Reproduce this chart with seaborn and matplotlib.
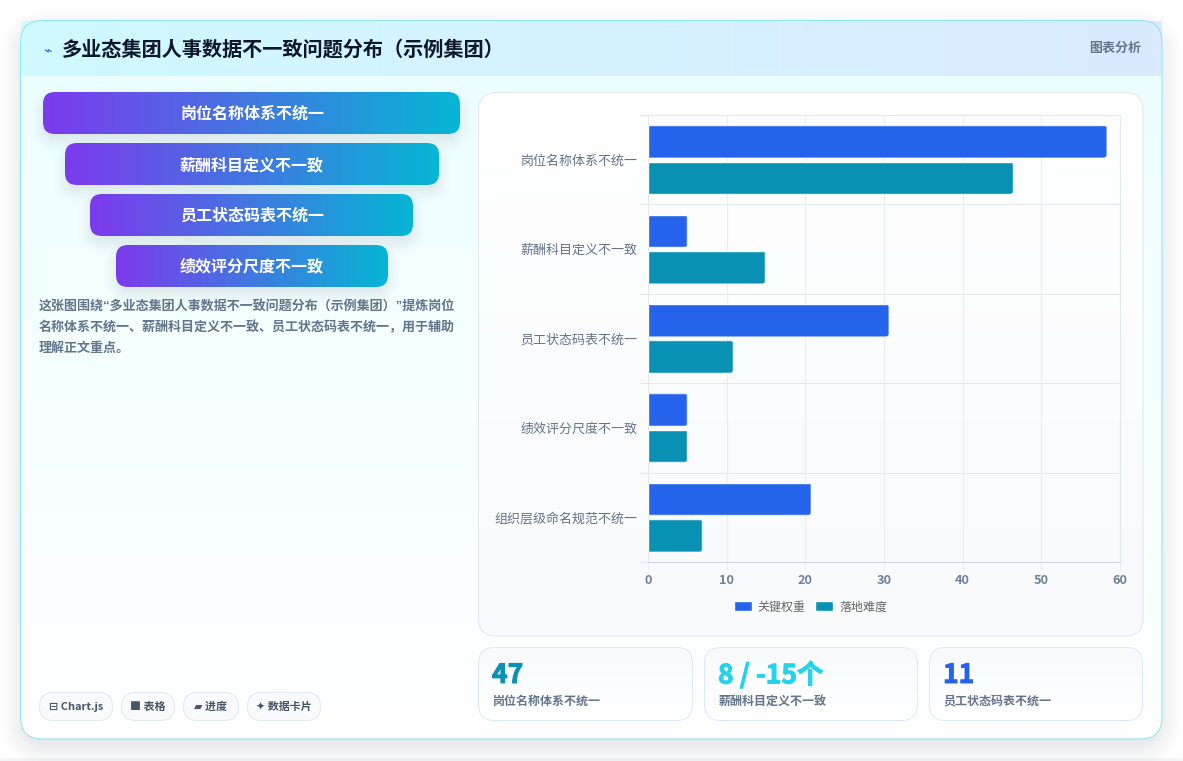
import numpy as np
import pandas as pd
import matplotlib
matplotlib.use("Agg")
import matplotlib.pyplot as plt
from matplotlib.colors import LinearSegmentedColormap, to_rgb
from matplotlib.patches import FancyBboxPatch, Rectangle
from matplotlib.patheffects import withStroke
from matplotlib.transforms import IdentityTransform
from matplotlib.ticker import FixedLocator
import seaborn as sns

# Chart data
categories = ["岗位名称体系不统一", "薪酬科目定义不一致", "员工状态码表不统一", "绩效评分尺度不一致", "组织层级命名规范不统一"]
key_weight = [58.3, 5, 30.6, 5, 20.7]
landing_difficulty = [46.4, 14.9, 10.8, 5, 6.9]
series_names = ["关键权重", "落地难度"]
series_colors = ["#2563eb", "#0891b2"]
x_ticks = [0, 10, 20, 30, 40, 50, 60]

# Page copy
title_text = "多业态集团人事数据不一致问题分布（示例集团）"
title_icon = "⌁"
header_tag = "图表分析"
funnel_labels = ["岗位名称体系不统一", "薪酬科目定义不一致", "员工状态码表不统一", "绩效评分尺度不一致"]
summary_lines = [
    "这张图围绕“多业态集团人事数据不一致问题分布（示例集团）”提炼岗位",
    "名称体系不统一、薪酬科目定义不一致、员工状态码表不统一，用于辅助",
    "理解正文重点。",
]
chip_labels = ["⊟ Chart.js", "■ 表格", "▰ 进度", "✦ 数据卡片"]
stat_values = ["47", "8 / -15个", "11"]
stat_labels = ["岗位名称体系不统一", "薪酬科目定义不一致", "员工状态码表不统一"]
stat_colors = ["#0891b2", "#22d3ee", "#2563eb"]

W, H = 1183, 761
FONT = ["Noto Sans CJK SC", "DejaVu Sans"]
LATIN_FIRST = ["Liberation Sans", "Noto Sans CJK SC"]
sns.set_theme(style="white")
plt.rcParams["font.family"] = FONT
HAIR = 0.72  # one device pixel in points


def pt(px):
    return px * 0.72


fig = plt.figure(figsize=(W / 100, H / 100), dpi=100, facecolor="white")
bg = fig.add_axes([0, 0, 1, 1], zorder=0)
bg.set_axis_off()


def round_box(x0, y0, x1, y1, r, **kw):
    return FancyBboxPatch((x0 + r, y0 + r), x1 - x0 - 2 * r, y1 - y0 - 2 * r,
                          boxstyle=f"round,pad={r},rounding_size={r}", **kw)


def shadow(x0, y0, x1, y1, r, blur, color, alpha, dy=0, z=1):
    # Soft shadow from the distance field of a rounded box
    m = int(blur * 2.5)
    xs = np.arange(x0 - m, x1 + m)
    ys = np.arange(y0 - m + dy, y1 + m + dy)
    gx, gy = np.meshgrid(xs + 0.5, ys + 0.5)
    cx, cy = (x0 + x1) / 2, (y0 + y1) / 2 + dy
    qx = np.abs(gx - cx) - (x1 - x0) / 2 + r
    qy = np.abs(gy - cy) - (y1 - y0) / 2 + r
    d = np.hypot(np.maximum(qx, 0), np.maximum(qy, 0)) + np.minimum(np.maximum(qx, qy), 0) - r
    a = np.clip(0.5 - d / (2 * blur), 0, 1)
    a = a * a * (3 - 2 * a) * alpha
    img = np.zeros(a.shape + (4,))
    img[..., :3] = to_rgb(color)
    img[..., 3] = a
    bg.imshow(img, extent=(xs[0], xs[-1] + 1, ys[-1] + 1, ys[0]), aspect="auto",
              interpolation="bilinear", zorder=z)


def gradient(x0, y0, x1, y1, c0, c1, horizontal=True, clip=None, z=2):
    cmap = LinearSegmentedColormap.from_list("g", [c0, c1])
    ramp = np.linspace(0, 1, 256)
    arr = ramp[None, :] if horizontal else ramp[:, None]
    im = bg.imshow(arr, cmap=cmap, extent=(x0, x1, y1, y0), aspect="auto", zorder=z,
                   interpolation="bilinear", vmin=0, vmax=1)
    if clip is not None:
        clip.set_transform(bg.transData)
        im.set_clip_path(clip)
    return im


# Page and card
bg.add_patch(Rectangle((0, 758), W, 3, fc="#f3f4f6", ec="none", zorder=0.5))
shadow(20, 20, 1162, 739, 22, 26, "#0f172a", 0.14, dy=8, z=1)
card_clip = round_box(20.5, 20.5, 1162, 739, 22, fc="none", ec="none")
gradient(20, 20, 1162, 740, "#ecfeff", "#ffffff", horizontal=False, clip=card_clip, z=2)
gradient(21, 21, 1162, 76, "#cffafe", "#dbeafe", z=3)
bg.add_patch(round_box(20.5, 20.5, 1162, 739, 22, fc="none", ec="#8be6f2", lw=HAIR, zorder=4))

# Header
bg.text(47, 50, title_icon, fontsize=pt(14), color="#2563eb", ha="center", va="center",
        family="DejaVu Sans", zorder=6)
bg.text(62, 49.5, title_text, fontsize=pt(20.2), fontweight="bold", color="#0f172a",
        ha="left", va="center", zorder=6)
bg.text(1141, 48, header_tag, fontsize=pt(13), fontweight="bold", color="#64748b",
        ha="right", va="center", zorder=6)

# Funnel steps
funnel_spans = [(43, 460, 92), (65, 439, 143), (90, 413, 194), (116, 388, 245)]
for label, (x0, x1, y0) in zip(funnel_labels, funnel_spans):
    y1 = y0 + 42
    shadow(x0, y0, x1, y1, 12, 16, "#0f172a", 0.11, dy=7, z=5)
    gradient(x0, y0, x1, y1, "#7c3aed", "#06b6d4",
             clip=round_box(x0, y0, x1, y1, 12, fc="none", ec="none"), z=6)
    bg.text(252, y0 + 22, label, fontsize=pt(16), fontweight="bold", color="white",
            ha="center", va="center", zorder=7)

# Summary paragraph
for line, y in zip(summary_lines, [307.5, 328, 348.5]):
    bg.text(39, y, line, fontsize=pt(13), fontweight="bold", color="#64748b",
            family=LATIN_FIRST, ha="left", va="center", zorder=6)

# Feature chips
chip_spans = [(39, 113), (121, 175), (183, 239), (247, 321)]
for label, (x0, x1) in zip(chip_labels, chip_spans):
    bg.add_patch(round_box(x0 + .5, 692.5, x1 - .5, 720.5, 14, fc="#f8fafc", ec="#e2e8f0", lw=HAIR, zorder=6))
    bg.text((x0 + x1) / 2, 707, label, fontsize=pt(11), fontweight="bold", color="#475569",
            ha="center", va="center", zorder=7)

# Chart panel
gradient(478, 92, 1143, 636, "#ffffff", "#f8fafc", horizontal=False,
         clip=round_box(478.5, 92.5, 1143, 636, 18, fc="none", ec="none"), z=5)
bg.add_patch(round_box(478.5, 92.5, 1143, 636, 18, fc="none", ec="#e2e8f0", lw=HAIR, zorder=6))

# Stat cards
stat_spans = [(478, 693), (704, 918), (929, 1143)]
for value, label, color, (x0, x1) in zip(stat_values, stat_labels, stat_colors, stat_spans):
    gradient(x0, 647, x1, 720, "#f8fafc", "#ffffff", horizontal=False,
             clip=round_box(x0 + .5, 647.5, x1 - .5, 720.5, 16, fc="none", ec="none"), z=5)
    bg.add_patch(round_box(x0 + .5, 647.5, x1 - .5, 720.5, 16, fc="none", ec="#dbeafe", lw=HAIR, zorder=6))
    bg.text(x0 + 14, 675.5, value, fontsize=pt(26.5), fontweight="bold", color=color, ha="left", va="center",
            zorder=7, path_effects=[withStroke(linewidth=0.7, foreground=color)])
    bg.text(x0 + 14.5, 701, label, fontsize=pt(12), fontweight="bold", color="#64748b",
            ha="left", va="center", zorder=7)

bg.set_xlim(0, W)
bg.set_ylim(H, 0)

# Horizontal grouped bars
df = pd.DataFrame({
    "category": categories * 2,
    "series": [series_names[0]] * len(categories) + [series_names[1]] * len(categories),
    "value": key_weight + landing_difficulty,
})
ax = fig.add_axes([648 / W, (H - 562) / H, 472 / W, 447 / H], zorder=2)
ax.patch.set_alpha(0)
sns.barplot(data=df, y="category", x="value", hue="series", order=categories,
            hue_order=series_names, palette=series_colors, orient="h",
            width=0.815, gap=0.108, dodge=True, saturation=1, ax=ax, legend=True, zorder=3)
ax.set_xlim(0, 60)
ax.set_ylim(4.5, -0.5)
ax.set_xlabel("")
ax.set_ylabel("")
ax.set_xticks(x_ticks)
ax.yaxis.set_minor_locator(FixedLocator(np.arange(-0.5, 5, 1)))
ax.grid(True, axis="x", color="#e9eef4", lw=HAIR * 1.2, zorder=0)
ax.grid(True, axis="y", which="minor", color="#e2e8f0", lw=HAIR, zorder=0)
ax.grid(False, axis="y", which="major")
ax.set_axisbelow(True)
for side, spine in ax.spines.items():
    spine.set_visible(True)
    spine.set_color("#e2e8f0")
    spine.set_linewidth(HAIR)
ax.spines["bottom"].set_color("#cbd5e1")
ax.tick_params(axis="x", which="major", bottom=True, length=5.5, width=HAIR * 1.2, color="#e9eef4", pad=3.5,
               labelsize=pt(12.8), labelcolor="#718096")
ax.tick_params(axis="y", which="minor", left=True, length=5.5, width=HAIR, color="#e2e8f0")
ax.tick_params(axis="y", which="major", left=False, length=0, pad=7.5, labelsize=pt(13), labelcolor="#64748b")
for t in ax.get_xticklabels():
    t.set_fontweight("bold")

handles, labels = ax.get_legend_handles_labels()
ax.legend(handles, labels, loc="center", bbox_to_anchor=(810.5 / W, (H - 607) / H),
          bbox_transform=fig.transFigure, ncol=2, frameon=False, fontsize=pt(12),
          handlelength=1.5, handleheight=0.9, handletextpad=0.5, columnspacing=0.8,
          labelcolor="#666666", borderpad=0, borderaxespad=0)

# Round the outer end of every bar by clipping it in pixel space
fig.canvas.draw()
for bar in ax.patches:
    if bar.get_width() <= 0:
        continue
    b = bar.get_window_extent()
    r = 3
    clip = FancyBboxPatch((b.x0 - 10, b.y0 + r), b.width + 10 - r, b.height - 2 * r,
                          boxstyle=f"round,pad={r},rounding_size={r}", transform=IdentityTransform())
    bar.set_clip_path(clip)

fig.savefig("out.png", dpi=100, facecolor="white")
